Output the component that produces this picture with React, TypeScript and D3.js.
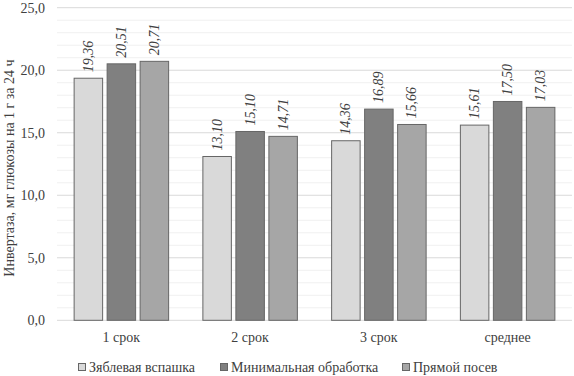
import React from "react";
import * as d3 from "d3";

const categories = ["1 срок", "2 срок", "3 срок", "среднее"];
const seriesNames = ["Зяблевая вспашка", "Минимальная обработка", "Прямой посев"];
const seriesColors = ["#d9d9d9", "#808080", "#a6a6a6"];
const zyablevaya = [19.36, 13.1, 14.36, 15.61];
const minimalnaya = [20.51, 15.1, 16.89, 17.5];
const pryamoy = [20.71, 14.71, 15.66, 17.03];
const yTicks = [0, 5, 10, 15, 20, 25];
const yTitle = "Инвертаза, мг глюкозы на 1 г за 24 ч";

const W = 574;
const H = 376;
const FONT = "serif";

export default function App() {
  const series = [zyablevaya, minimalnaya, pryamoy];
  const left = 57;
  const right = 572;
  const top = 7.7;
  const bottom = 320.3;

  const x = d3.scaleBand<string>().domain(categories).range([left, right]).paddingInner(0).paddingOuter(0);
  const y = d3.scaleLinear().domain([0, 25]).range([bottom, top]);
  const bw = 28.5;
  const gap = 4.5;
  const groupW = bw * 3 + gap * 2;

  const minor = d3.range(0, 25.001, 1).filter((v) => v % 5 !== 0);
  const fmt = (v: number) => v.toFixed(1).replace(".", ",");
  const fmt2 = (v: number) => v.toFixed(2).replace(".", ",");

  const legendX = [78, 220, 402];
  const ts: React.CSSProperties = { fontFamily: FONT };

  return (
    <svg width={W} height={H} style={{ position: "absolute", left: 0, top: 0, background: "#fff" }}>
      <rect x={0} y={0} width={W} height={H} fill="#fff" />
      {minor.map((v) => (
        <line key={"m" + v} x1={left} x2={right} y1={y(v)} y2={y(v)} stroke="#f0f0f0" strokeWidth={1} />
      ))}
      {yTicks.map((v) => (
        <line key={"g" + v} x1={left} x2={right} y1={y(v)} y2={y(v)} stroke="#d9d9d9" strokeWidth={1} />
      ))}
      {yTicks.map((v) => (
        <text key={"t" + v} x={45} y={y(v)} dy="0.35em" textAnchor="end" fontSize={14} fill="#404040" style={ts}>
          {fmt(v)}
        </text>
      ))}
      <text
        transform={`translate(14, ${(top + bottom) / 2 + 4}) rotate(-90)`}
        textAnchor="middle"
        fontSize={14}
        fill="#404040"
        style={ts}
      >
        {yTitle}
      </text>
      {categories.map((c, i) => {
        const cx = (x(c) as number) + x.bandwidth() / 2;
        const x0 = cx - groupW / 2;
        return (
          <g key={c}>
            {series.map((s, j) => {
              const bx = x0 + j * (bw + gap);
              const by = y(s[i]);
              return (
                <g key={j}>
                  <rect
                    x={bx}
                    y={by}
                    width={bw}
                    height={bottom - by}
                    fill={seriesColors[j]}
                    stroke="#666666"
                    strokeWidth={1}
                  />
                  <text
                    transform={`translate(${bx + bw / 2 + 4.5}, ${by - 6}) rotate(-90)`}
                    textAnchor="start"
                    fontSize={14}
                    fontStyle="italic"
                    fill="#404040"
                    style={ts}
                  >
                    {fmt2(s[i])}
                  </text>
                </g>
              );
            })}
            <text x={cx} y={342} textAnchor="middle" fontSize={14} fill="#404040" style={ts}>
              {c}
            </text>
          </g>
        );
      })}
      {seriesNames.map((n, j) => (
        <g key={n}>
          <rect x={legendX[j] + 0.5} y={363.5} width={7} height={7} fill={seriesColors[j]} stroke="#666666" strokeWidth={1} />
          <text x={legendX[j] + 11} y={367} dy="0.35em" fontSize={14} fill="#404040" style={ts}>
            {n}
          </text>
        </g>
      ))}
    </svg>
  );
}
